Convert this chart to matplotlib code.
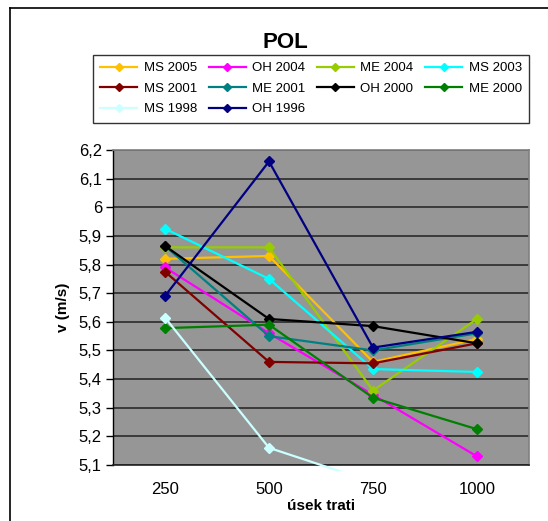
import numpy as np
import matplotlib
matplotlib.use("Agg")
import matplotlib.pyplot as plt
from matplotlib.lines import Line2D
from matplotlib.transforms import Bbox, TransformedBbox

plt.rcParams['font.family'] = ['Liberation Sans', 'DejaVu Sans']

# Section distances (m) along the race
sections = ["250", "500", "750", "1000"]
y_ticks = [5.1, 5.2, 5.3, 5.4, 5.5, 5.6, 5.7, 5.8, 5.9, 6.0, 6.1, 6.2]
y_tick_labels = ["5,1", "5,2", "5,3", "5,4", "5,5", "5,6", "5,7", "5,8", "5,9", "6", "6,1", "6,2"]

# Mean speed per section (m/s) for each championship
ms_2005 = [5.82, 5.83, 5.46, 5.54]
oh_2004 = [5.79, 5.56, 5.345, 5.13]
me_2004 = [5.86, 5.86, 5.36, 5.61]
ms_2003 = [5.925, 5.75, 5.435, 5.425]
ms_2001 = [5.775, 5.46, 5.455, 5.525]
me_2001 = [5.865, 5.55, 5.50, 5.56]
oh_2000 = [5.865, 5.61, 5.585, 5.525]
me_2000 = [5.578, 5.59, 5.335, 5.225]
ms_1998 = [5.615, 5.16, 5.04, np.nan]
oh_1996 = [5.69, 6.16, 5.51, 5.565]

series = [
    ("MS 2005", ms_2005, "#FFC000"),
    ("OH 2004", oh_2004, "#FF00FF"),
    ("ME 2004", me_2004, "#99CC00"),
    ("MS 2003", ms_2003, "#00FFFF"),
    ("MS 2001", ms_2001, "#800000"),
    ("ME 2001", me_2001, "#008080"),
    ("OH 2000", oh_2000, "#000000"),
    ("ME 2000", me_2000, "#008000"),
    ("MS 1998", ms_1998, "#CCFFFF"),
    ("OH 1996", oh_1996, "#000080"),
]

W, H = 548, 521
fig = plt.figure(figsize=(W / 100, H / 100), dpi=100)
fig.patch.set_facecolor("white")

# Chart border (top and left edges visible)
fig.add_artist(Line2D([10 / W, 10 / W], [0, 1 - 8 / H], transform=fig.transFigure,
                      color="black", lw=1.2))
fig.add_artist(Line2D([10 / W, 1], [1 - 8 / H, 1 - 8 / H], transform=fig.transFigure,
                      color="black", lw=1.2))

ax = fig.add_axes([113 / W, 1 - 465 / H, 416 / W, 315 / H])
ax.set_facecolor("#969696")

x = np.arange(len(sections))
clip = TransformedBbox(Bbox([[0, -0.02], [1, 1]]), ax.transAxes)
handles = []
for name, vals, col in series:
    line, = ax.plot(x, vals, color=col, lw=1.6, marker="D", markersize=5,
                    markeredgecolor=col, markerfacecolor=col, label=name, zorder=3)
    line.set_clip_box(clip)
    handles.append(line)

ax.set_xlim(-0.5, 3.5)
ax.set_ylim(5.1, 6.2)
ax.set_yticks(y_ticks)
ax.set_yticklabels(y_tick_labels, fontsize=12)
ax.set_xticks(x)
ax.set_xticklabels(sections, fontsize=12)
ax.tick_params(axis="x", length=0, pad=12)
ax.tick_params(axis="y", length=5, width=1, direction="out", pad=3)
ax.yaxis.grid(True, color="#333333", lw=1.3)
ax.set_axisbelow(True)

for s in ("top", "right"):
    ax.spines[s].set_color("#808080")
    ax.spines[s].set_linewidth(1.2)
ax.spines["left"].set_color("black")
ax.spines["bottom"].set_color("#222222")
ax.spines["left"].set_linewidth(1.0)
ax.spines["bottom"].set_linewidth(1.2)

ax.set_ylabel("v (m/s)", fontsize=11, fontweight="bold", labelpad=6)
ax.set_xlabel("úsek trati", fontsize=11, fontweight="bold", labelpad=2)

fig.text(285 / W, 1 - 42 / H, "POL", fontsize=16, fontweight="bold",
         ha="center", va="center")

# Legend entries filled row by row (matplotlib fills columns first)
order = [0, 4, 8, 1, 5, 9, 2, 6, 3, 7]
leg = fig.legend([handles[i] for i in order], [series[i][0] for i in order],
                 loc="upper left", ncol=4, mode="expand",
                 bbox_to_anchor=(93 / W, 1 - 122 / H, 436 / W, 67 / H),
                 fontsize=9.5, frameon=True, fancybox=False, shadow=False,
                 handlelength=2.8, handletextpad=0.5, columnspacing=0.8,
                 labelspacing=0.62, borderpad=0.55, borderaxespad=0.0,
                 markerscale=0.8)
leg.get_frame().set_edgecolor("black")
leg.get_frame().set_linewidth(1.0)

fig.savefig("out.png", dpi=100)
